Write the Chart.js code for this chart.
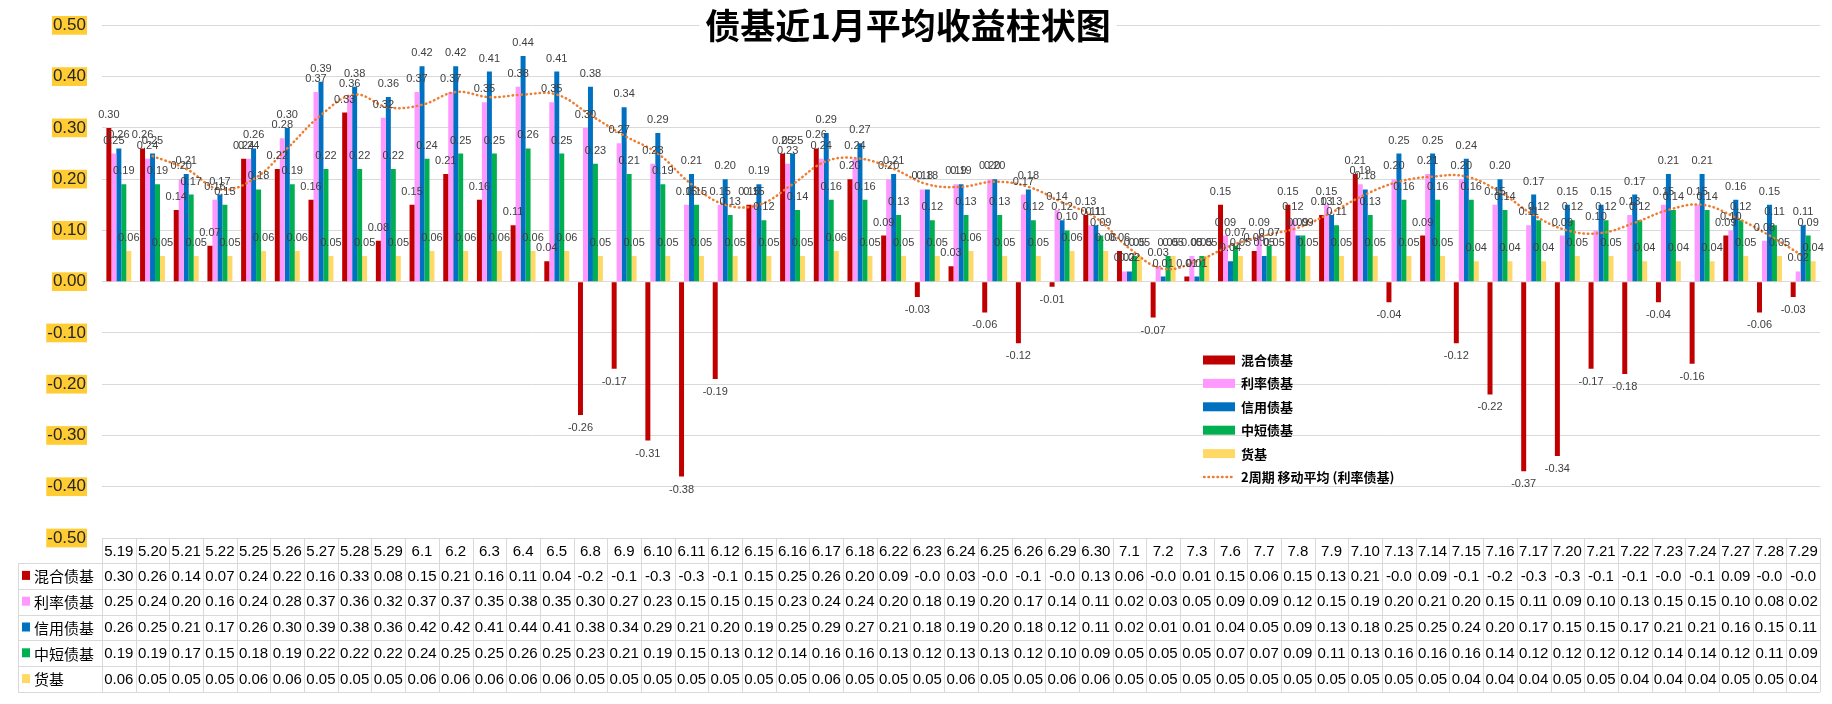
<!DOCTYPE html>
<html><head><meta charset="utf-8">
<script src="https://cdn.jsdelivr.net/npm/chart.js@4.4.1/dist/chart.umd.min.js"></script>
<style>html,body{margin:0;padding:0;background:#fff;}#wrap{width:1832px;height:704px;position:relative;}</style>
</head><body><div id="wrap"><canvas id="c" width="1832" height="704"></canvas></div>
<script>
const chartTitle = '债基近1月平均收益柱状图';
const categories = ['5.19','5.20','5.21','5.22','5.25','5.26','5.27','5.28','5.29','6.1','6.2','6.3','6.4','6.5','6.8','6.9','6.10','6.11','6.12','6.15','6.16','6.17','6.18','6.22','6.23','6.24','6.25','6.26','6.29','6.30','7.1','7.2','7.3','7.6','7.7','7.8','7.9','7.10','7.13','7.14','7.15','7.16','7.17','7.20','7.21','7.22','7.23','7.24','7.27','7.28','7.29'];
const seriesNames = ['混合债基','利率债基','信用债基','中短债基','货基'];
const maName = '2周期 移动平均 (利率债基)';
const hunhe = [0.30,0.26,0.14,0.07,0.24,0.22,0.16,0.33,0.08,0.15,0.21,0.16,0.11,0.04,-0.26,-0.17,-0.31,-0.38,-0.19,0.15,0.25,0.26,0.20,0.09,-0.03,0.03,-0.06,-0.12,-0.01,0.13,0.06,-0.07,0.01,0.15,0.06,0.15,0.13,0.21,-0.04,0.09,-0.12,-0.22,-0.37,-0.34,-0.17,-0.18,-0.04,-0.16,0.09,-0.06,-0.03];
const lilv = [0.25,0.24,0.20,0.16,0.24,0.28,0.37,0.36,0.32,0.37,0.37,0.35,0.38,0.35,0.30,0.27,0.23,0.15,0.15,0.15,0.23,0.24,0.24,0.20,0.18,0.19,0.20,0.17,0.14,0.11,0.02,0.03,0.05,0.09,0.09,0.12,0.15,0.19,0.20,0.21,0.20,0.15,0.11,0.09,0.10,0.13,0.15,0.15,0.10,0.08,0.02];
const xinyong = [0.26,0.25,0.21,0.17,0.26,0.30,0.39,0.38,0.36,0.42,0.42,0.41,0.44,0.41,0.38,0.34,0.29,0.21,0.20,0.19,0.25,0.29,0.27,0.21,0.18,0.19,0.20,0.18,0.12,0.11,0.02,0.01,0.01,0.04,0.05,0.09,0.13,0.18,0.25,0.25,0.24,0.20,0.17,0.15,0.15,0.17,0.21,0.21,0.16,0.15,0.11];
const zhongduan = [0.19,0.19,0.17,0.15,0.18,0.19,0.22,0.22,0.22,0.24,0.25,0.25,0.26,0.25,0.23,0.21,0.19,0.15,0.13,0.12,0.14,0.16,0.16,0.13,0.12,0.13,0.13,0.12,0.10,0.09,0.05,0.05,0.05,0.07,0.07,0.09,0.11,0.13,0.16,0.16,0.16,0.14,0.12,0.12,0.12,0.12,0.14,0.14,0.12,0.11,0.09];
const huoji = [0.06,0.05,0.05,0.05,0.06,0.06,0.05,0.05,0.05,0.06,0.06,0.06,0.06,0.06,0.05,0.05,0.05,0.05,0.05,0.05,0.05,0.06,0.05,0.05,0.05,0.06,0.05,0.05,0.06,0.06,0.05,0.05,0.05,0.05,0.05,0.05,0.05,0.05,0.05,0.05,0.04,0.04,0.04,0.05,0.05,0.04,0.04,0.04,0.05,0.05,0.04];
const lilvMA2 = [null,0.245,0.22,0.18,0.20,0.26,0.325,0.365,0.34,0.345,0.37,0.36,0.365,0.365,0.325,0.285,0.25,0.19,0.15,0.15,0.19,0.235,0.24,0.22,0.19,0.185,0.195,0.185,0.155,0.125,0.065,0.025,0.04,0.07,0.09,0.105,0.135,0.17,0.195,0.205,0.205,0.175,0.13,0.10,0.095,0.115,0.14,0.15,0.125,0.09,0.05];
const yMin = -0.5, yMax = 0.5, yStep = 0.1;

const seriesValues = [hunhe, lilv, xinyong, zhongduan, huoji];
const seriesColors = ['#C00000','#FF99FF','#0070C0','#00B050','#FFD966'];
const maColor = '#ED7D31';
const NUM_FONT = '"Liberation Sans", Arial, sans-serif';
const CJK_FONT = '"Noto Sans CJK SC", "Noto Sans", sans-serif';
const GRID = '#D9D9D9';

function tableFmt(v){
  if (v < 0) return '-' + (Math.floor(Math.abs(v)*10 + 1e-9)/10).toFixed(1);
  return v.toFixed(2);
}

const titlePlugin = {
  id:'titleBox',
  afterDraw(chart){
    const ctx = chart.ctx;
    ctx.save();
    ctx.font = 'bold 35px ' + CJK_FONT;
    const w = ctx.measureText(chartTitle).width;
    const cx = 908, cy = 26;
    ctx.fillStyle = '#fff';
    ctx.fillRect(cx - w/2 - 6, cy - 21, w + 12, 42);
    ctx.fillStyle = '#000';
    ctx.textAlign = 'center';
    ctx.textBaseline = 'middle';
    ctx.fillText(chartTitle, cx, cy);
    ctx.restore();
  }
};

const labelPlugin = {
  id:'barLabels',
  afterDatasetsDraw(chart){
    const ctx = chart.ctx;
    ctx.save();
    ctx.font = '11px ' + NUM_FONT;
    ctx.fillStyle = '#404040';
    ctx.textAlign = 'center';
    ctx.textBaseline = 'middle';
    chart.data.datasets.forEach((ds, di) => {
      if (ds.type === 'line') return;
      const meta = chart.getDatasetMeta(di);
      meta.data.forEach((el, i) => {
        const v = ds.data[i];
        const y = v >= 0 ? el.y - 13 : el.y + 13;
        ctx.fillText(v.toFixed(2), el.x, y);
      });
    });
    ctx.restore();
  }
};

const legendPlugin = {
  id:'innerLegend',
  afterDraw(chart){
    const ctx = chart.ctx;
    ctx.save();
    const x0 = 1203, y0 = 360, dy = 23.4;
    ctx.font = 'bold 13px ' + CJK_FONT;
    ctx.textBaseline = 'middle';
    ctx.textAlign = 'left';
    const ds = chart.data.datasets;
    ds.forEach((d, i) => {
      const y = y0 + i*dy;
      if (d.type === 'line') {
        ctx.strokeStyle = d.borderColor;
        ctx.lineWidth = 2.5;
        ctx.lineCap = 'round';
        ctx.setLineDash([0.5, 4]);
        ctx.beginPath(); ctx.moveTo(x0+1, y); ctx.lineTo(x0+31, y); ctx.stroke();
        ctx.setLineDash([]);
      } else {
        ctx.fillStyle = d.backgroundColor;
        ctx.fillRect(x0, y - 4.5, 32, 9);
      }
      ctx.fillStyle = '#000';
      ctx.fillText(d.label, x0 + 38, y);
    });
    ctx.restore();
  }
};

const tablePlugin = {
  id:'dataTable',
  afterDraw(chart){
    const ctx = chart.ctx;
    const {left, right, bottom} = chart.chartArea;
    const xs = chart.scales.x;
    const n = categories.length;
    const colW = (right - left) / n;
    const headTop = bottom, headBot = bottom + 25, rowH = 25.8;
    const tableBot = headBot + rowH * seriesValues.length;
    const labelLeft = 18;
    const px = v => Math.round(v) + 0.5;
    ctx.save();
    ctx.strokeStyle = GRID; ctx.lineWidth = 1;
    ctx.beginPath();
    ctx.moveTo(left, px(headTop)); ctx.lineTo(right, px(headTop));
    for (let r = 0; r <= seriesValues.length; r++) {
      const y = px(headBot + r*rowH);
      ctx.moveTo(labelLeft, y); ctx.lineTo(right, y);
    }
    ctx.moveTo(px(labelLeft), headBot); ctx.lineTo(px(labelLeft), tableBot);
    for (let c = 0; c <= n; c++) {
      const x = px(left + c*colW);
      ctx.moveTo(x, headTop); ctx.lineTo(x, tableBot);
    }
    ctx.stroke();
    ctx.fillStyle = '#000';
    ctx.textAlign = 'center'; ctx.textBaseline = 'middle';
    ctx.font = '15px ' + NUM_FONT;
    categories.forEach((c, i) => ctx.fillText(c, xs.getPixelForValue(i), headTop + 13.5));
    seriesValues.forEach((arr, r) => {
      const yc = headBot + r*rowH + rowH/2 + 0.5;
      arr.forEach((v, i) => ctx.fillText(tableFmt(v), xs.getPixelForValue(i), yc));
    });
    ctx.textAlign = 'left';
    seriesNames.forEach((nm, r) => {
      const yc = headBot + r*rowH + rowH/2;
      ctx.fillStyle = seriesColors[r];
      ctx.fillRect(22, yc - 5, 8, 9);
      ctx.fillStyle = '#000';
      ctx.font = '15px ' + CJK_FONT;
      ctx.fillText(nm, 34, yc + 0.5);
    });
    ctx.restore();
  }
};

const datasets = seriesNames.map((nm, i) => ({
  type:'bar', label:nm, data:seriesValues[i], backgroundColor:seriesColors[i],
  borderWidth:0, categoryPercentage:0.74, barPercentage:1.0, order:1
}));
datasets.push({
  type:'line', label:maName, data:lilvMA2, borderColor:maColor, backgroundColor:maColor,
  borderWidth:2.5, borderDash:[0.5,4], borderCapStyle:'round', pointRadius:0, tension:0.4,
  spanGaps:true, fill:false, order:0
});

new Chart(document.getElementById('c'), {
  data:{ labels:categories, datasets },
  options:{
    responsive:false, animation:false, devicePixelRatio:1,
    layout:{ padding:{ left:0, right:12, top:18, bottom:166 } },
    plugins:{ legend:{display:false}, title:{display:false}, tooltip:{enabled:false} },
    scales:{
      x:{ type:'category', display:false, offset:true, grid:{display:false} },
      y:{
        min:yMin, max:yMax,
        ticks:{ stepSize:yStep, color:'#262626',
          callback:v => (Math.abs(v) < 1e-9 ? 0 : v).toFixed(2),
          font:{ family:NUM_FONT, size:17, lineHeight:1.1 },
          padding:16, showLabelBackdrop:true, backdropColor:'#FFCC33',
          backdropPadding:{left:1,right:1,top:0,bottom:0} },
        grid:{ color:GRID, lineWidth:1, drawTicks:false },
        border:{ display:false },
        afterFit(s){ s.width = 102; }
      }
    }
  },
  plugins:[labelPlugin, titlePlugin, legendPlugin, tablePlugin]
});
</script>
</body></html>
